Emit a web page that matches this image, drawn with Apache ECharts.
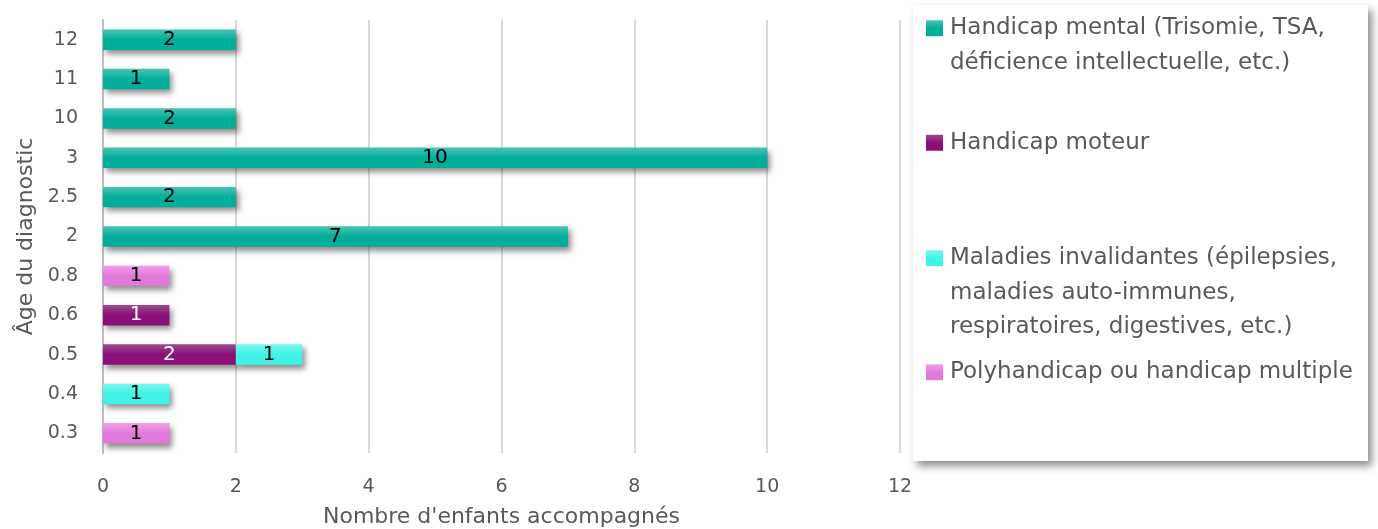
<!DOCTYPE html>
<html><head><meta charset="utf-8">
<script src="https://cdn.jsdelivr.net/npm/echarts@6/dist/echarts.min.js"></script>
<style>html,body{margin:0;padding:0;background:#fff}#c{width:1378px;height:529px}</style>
</head><body><div id="c"></div>
<script>
var categories = ['0.3','0.4','0.5','0.6','0.8','2','2.5','3','10','11','12'];
var seriesNames = [
  'Handicap mental (Trisomie, TSA,\ndéficience intellectuelle, etc.)',
  'Handicap moteur',
  'Maladies invalidantes (épilepsies,\nmaladies auto-immunes,\nrespiratoires, digestives, etc.)',
  'Polyhandicap ou handicap multiple'
];
var mental   = [null,null,null,null,null,7,2,10,2,1,2];
var moteur   = [null,null,2,1,null,null,null,null,null,null,null];
var maladies = [null,1,1,null,null,null,null,null,null,null,null];
var poly     = [1,null,null,null,1,null,null,null,null,null,null];
var xTicks = [0,2,4,6,8,10,12];

var values = [mental, moteur, maladies, poly];
var colors = [['#4cc3b3','#00ae9a'],['#9c4b90','#8a0f78'],['#7af7ec','#3ff4e4'],['#f0a0ea','#e07ad8']];
var labelColors = ['#000','#fff','#000','#000'];
var legendTops = [-23.5, 125.5, 172, 355];
var FONT = "'DejaVu Sans', Verdana, sans-serif";

function grad(c){return new echarts.graphic.LinearGradient(0,0,0,1,[{offset:0,color:c[0]},{offset:0.5,color:c[1]},{offset:1,color:c[1]}]);}

var chart = echarts.init(document.getElementById('c'));
var legends = seriesNames.map(function(n,i){
  var lines = n.split('\n').length;
  var pre = new Array(lines).join('\n');
  return {
    data:[n], orient:'vertical', left:926, top:legendTops[i], padding:0,
    itemWidth:17, itemHeight:16, itemGap:0, icon:'rect',
    selectedMode:false,
    formatter:function(name){return pre + name;},
    textStyle:{color:'#595959', fontFamily:FONT, fontSize:23, lineHeight:34.5, padding:[0,0,0,2]}
  };
});
chart.setOption({
  animation:false,
  graphic:[{type:'rect', left:913, top:5, shape:{width:455, height:456},
    style:{fill:'#fff', shadowBlur:8, shadowColor:'rgba(0,0,0,0.45)', shadowOffsetX:4, shadowOffsetY:5}, z:-1}],
  legend: legends,
  grid:{left:103, right:478, top:20, bottom:76, containLabel:false, outerBoundsMode:'none'},
  xAxis:{type:'value', min:0, max:12, interval:2,
    axisLine:{show:false}, axisTick:{show:false},
    splitLine:{lineStyle:{color:'#d9d9d9', width:2}},
    axisLabel:{color:'#595959', fontSize:19, fontFamily:FONT, margin:25},
    name:"Nombre d'enfants accompagnés", nameLocation:'middle', nameGap:53,
    nameTextStyle:{color:'#595959', fontSize:22, fontFamily:FONT}},
  yAxis:{type:'category', data:categories,
    axisLine:{lineStyle:{color:'#bfbfbf', width:2}}, axisTick:{show:false},
    axisLabel:{color:'#595959', fontSize:19, fontFamily:FONT, margin:25},
    name:'Âge du diagnostic', nameLocation:'middle', nameGap:64,
    nameTextStyle:{color:'#595959', fontSize:22, fontFamily:FONT}},
  series: values.map(function(v,i){
    return {type:'bar', name:seriesNames[i], stack:'a', data:v, barWidth:'52%',
      itemStyle:{color:grad(colors[i]), shadowBlur:6, shadowColor:'rgba(0,0,0,0.45)', shadowOffsetX:3, shadowOffsetY:4},
      label:{show:true, position:'inside', color:labelColors[i], fontSize:20, fontFamily:FONT}};
  })
});
</script></body></html>
